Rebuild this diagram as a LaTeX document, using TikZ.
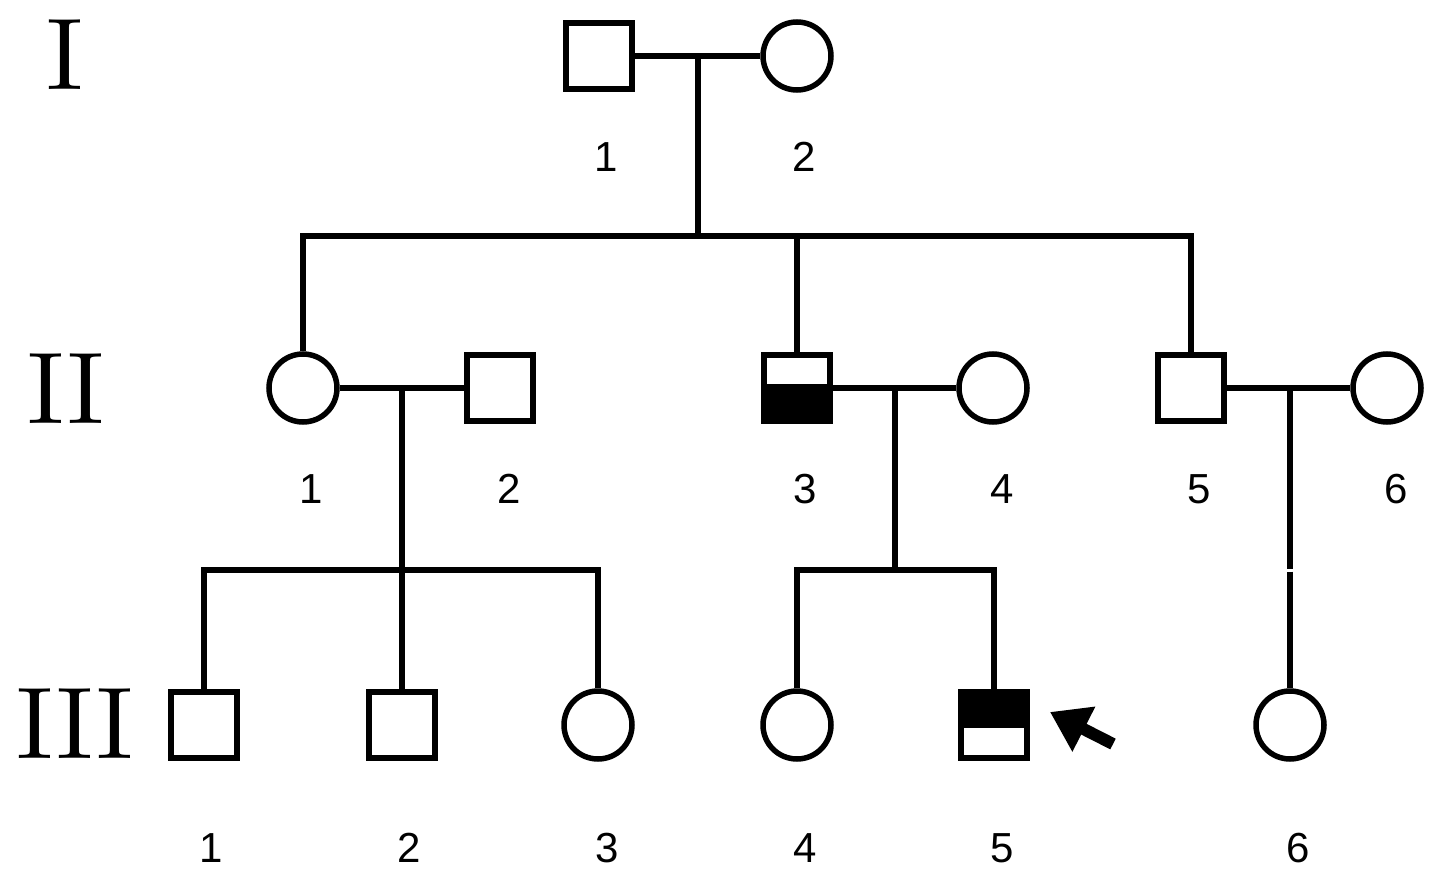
\documentclass[tikz,border=0pt]{standalone}
\usepackage{fontspec}
\setmainfont{Liberation Sans}
\newfontfamily\romanfont{lmroman10-regular.otf}
\usetikzlibrary{arrows.meta}
\begin{document}
\begin{tikzpicture}[x=1pt,y=-1pt,
  line width=5.5pt,
  male/.style={draw, rectangle, minimum size=66pt, inner sep=0pt, line width=6.5pt},
  female/.style={draw, circle, minimum size=68pt, inner sep=0pt, line width=5.5pt},
  lowerhalf/.style={path picture={\fill[black] ([yshift=4pt]path picture bounding box.west) rectangle (path picture bounding box.south east);}},
  upperhalf/.style={path picture={\fill[black] (path picture bounding box.north west) rectangle ([yshift=-3pt]path picture bounding box.east);}},
  num/.style={inner sep=0pt, font=\fontsize{42}{48}\selectfont},
  gen/.style={inner sep=0pt, font=\romanfont\fontsize{102}{110}\selectfont},
]
\useasboundingbox (0,0) rectangle (1441,880);

% generation labels
\node[gen] (gI) at (65,55) {I};
\node[gen] (gII) at (66,389) {II};
\node[gen] (gIII) at (75,724) {III};

% generation I
\node[male] (I1) at (599,56) {};
\node[female] (I2) at (797,56) {};
% generation II
\node[female] (II1) at (303,388) {};
\node[male] (II2) at (500,388) {};
\node[male, lowerhalf] (II3) at (797,388) {};
\node[female] (II4) at (993,388) {};
\node[male] (II5) at (1191,388) {};
\node[female] (II6) at (1387,388) {};
% generation III
\node[male] (III1) at (204,725) {};
\node[male] (III2) at (402,725) {};
\node[female] (III3) at (598,725) {};
\node[female] (III4) at (797,725) {};
\node[male, upperhalf] (III5) at (994,725) {};
\node[female] (III6) at (1290,725) {};

% numbers
\node[num] (nI1) at (606,157) {1};
\node[num] (nI2) at (804,157) {2};
\node[num] (nII1) at (311,489) {1};
\node[num] (nII2) at (509,489) {2};
\node[num] (nII3) at (805,489) {3};
\node[num] (nII4) at (1002,489) {4};
\node[num] (nII5) at (1199,489) {5};
\node[num] (nII6) at (1396,489) {6};
\node[num] (nIII1) at (211,848) {1};
\node[num] (nIII2) at (409,848) {2};
\node[num] (nIII3) at (607,848) {3};
\node[num] (nIII4) at (805,848) {4};
\node[num] (nIII5) at (1002,848) {5};
\node[num] (nIII6) at (1298,848) {6};

% coordinates
\coordinate (m1) at (698,56);
\coordinate (s1) at (698,236);
\coordinate (m2) at (402,388);
\coordinate (s2) at (402,570);
\coordinate (m3) at (895,388);
\coordinate (s3) at (895,570);
\coordinate (m4) at (1290,388);
\coordinate (g4a) at (1290,569);
\coordinate (g4b) at (1290,571.5);

% family I
\draw (I1) -- (I2);
\draw (m1) -- (s1);
\draw (II1.north) |- (II5.north |- s1) -- (II5.north);
\draw (II3.north) -- (II3.north |- s1);
% family II-1 x II-2
\draw (II1) -- (II2);
\draw (m2) -- (s2);
\draw (III1.north) |- (III3.north |- s2) -- (III3.north);
\draw (III2.north) -- (III2.north |- s2);
% family II-3 x II-4
\draw (II3) -- (II4);
\draw (m3) -- (s3);
\draw (III4.north) |- (III5.north |- s3) -- (III5.north);
% family II-5 x II-6
\draw (II5) -- (II6);
\draw (m4) -- (g4a);
\draw (g4b) -- (III6.north);

% proband arrow
\coordinate (arT) at (1113,744);
\coordinate (arH) at (1050,712);
\draw[line width=12pt, -{Triangle[length=38pt,width=48pt]}] (arT) -- (arH);
\end{tikzpicture}
\end{document}
